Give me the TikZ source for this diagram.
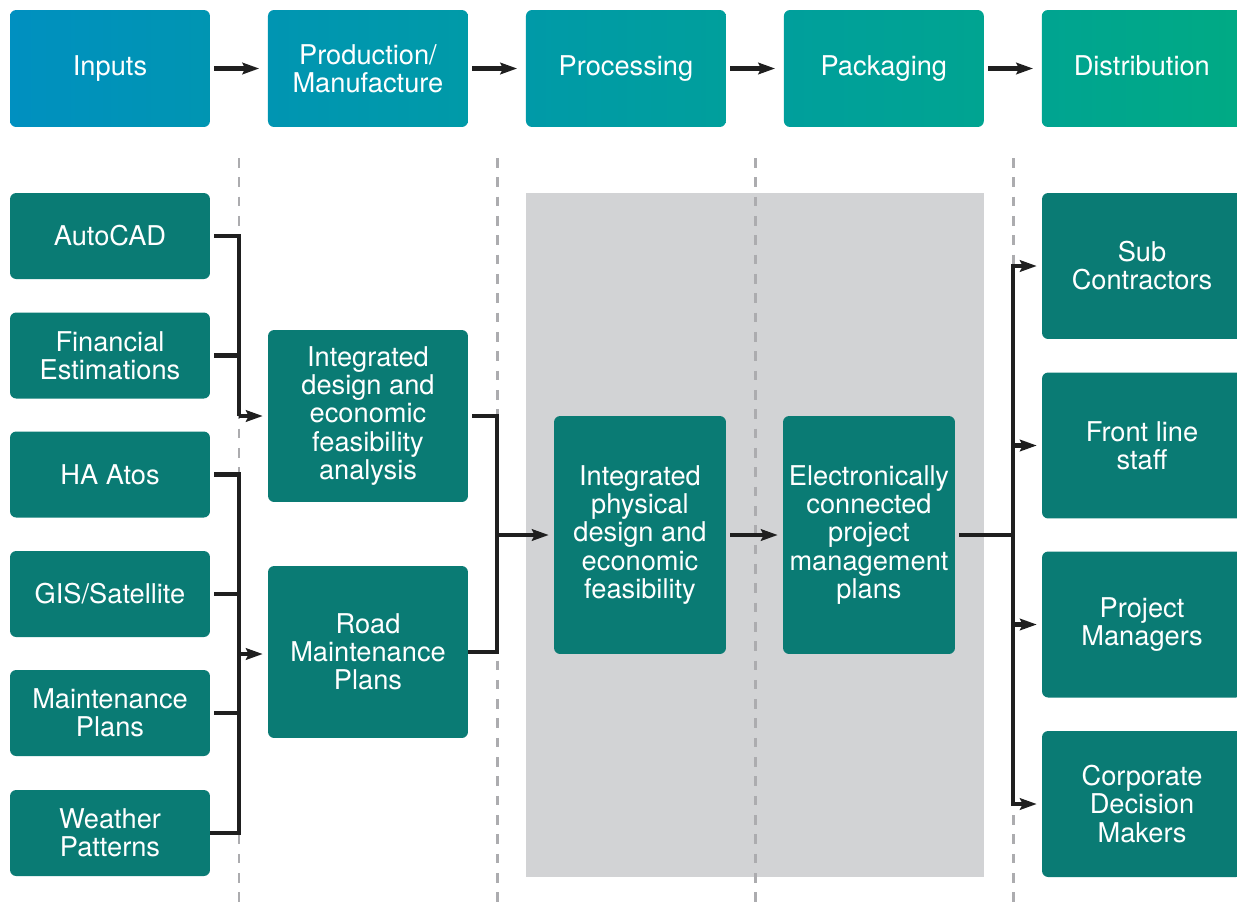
\documentclass[tikz,border=0pt]{standalone}
\usepackage{fontspec}
\setmainfont{TeX Gyre Heros}
\usetikzlibrary{arrows.meta,positioning}

\definecolor{tealbox}{RGB}{10,123,116}
\definecolor{panelgray}{RGB}{210,211,213}
\definecolor{dashgray}{RGB}{172,172,175}
\definecolor{stageA}{RGB}{0,144,192}
\definecolor{stageB}{RGB}{0,149,178}
\definecolor{stageC}{RGB}{0,154,168}
\definecolor{stageD}{RGB}{0,159,156}
\definecolor{stageE}{RGB}{0,164,145}
\definecolor{stageF}{RGB}{0,170,132}

\begin{document}
\begin{tikzpicture}[x=0.02cm,y=-0.02cm,>={Stealth[length=9.5pt,width=6.5pt,inset=1.5pt]},
    line width=2.4pt,
    every node/.style={font=\fontsize{15.5}{16}\selectfont,text=white,align=center,outer sep=0pt},
    stage/.style={rectangle,rounded corners=3.5pt,minimum width=4cm,minimum height=2.34cm},
    source/.style={rectangle,rounded corners=3.5pt,fill=tealbox,minimum width=4cm,minimum height=1.72cm},
    result/.style={rectangle,rounded corners=3.5pt,fill=tealbox,minimum width=4cm,minimum height=3.44cm},
    core/.style={rectangle,rounded corners=3.5pt,fill=tealbox,minimum width=3.44cm,minimum height=4.76cm},
    user/.style={rectangle,rounded corners=3.5pt,fill=tealbox,minimum width=4cm,minimum height=2.92cm},
    link/.style={draw=black!88},
    gap/.style={shorten <=2.5pt},
    divider/.style={draw=dashgray,line width=1.7pt,dash pattern=on 5.5pt off 5.5pt}]

    \useasboundingbox (0,0) rectangle (1237,907);

    % shaded band behind processing and packaging
    \fill[panelgray] (526,193) rectangle (984,877);
    \foreach \x in {239,497,755,1013}
        \draw[divider] (\x,158) -- (\x,907);

    % stages
    \node[stage,left color=stageA,right color=stageB] (inputs) at (110,68.5) {Inputs\vphantom{g}};
    \node[stage,left color=stageB,right color=stageC] (production) [right=1.16cm of inputs] {Production/\\Manufacture};
    \node[stage,left color=stageC,right color=stageD] (processing) [right=1.16cm of production] {Processing};
    \node[stage,left color=stageD,right color=stageE] (packaging) [right=1.16cm of processing] {Packaging};
    \node[stage,left color=stageE,right color=stageF] (distribution) [right=1.16cm of packaging] {Distribution\vphantom{g}};

    \foreach \a/\b in {inputs/production,production/processing,processing/packaging,packaging/distribution}
        \draw[link,gap,->,shorten >=5pt] (\a) -- (\b);

    % inputs
    \node[source] (autocad)   at (110,236)   {AutoCAD};
    \node[source] (financial) at (110,355.5) {Financial\\Estimations};
    \node[source] (atos)      at (110,474.5) {HA Atos};
    \node[source] (gis)       at (110,594)   {GIS/Satellite};
    \node[source] (maint)     at (110,713)   {Maintenance\\Plans};
    \node[source] (weather)   at (110,833)   {Weather\\Patterns};

    % production
    \node[result] (design) at (368,416) {Integrated\\design and\\economic\\feasibility\\analysis};
    \node[result] (road)   at (368,652) {Road\\Maintenance\\Plans};

    % processing and packaging
    \node[core] (physical)   at (640,535) {Integrated\\physical\\design and\\economic\\feasibility};
    \node[core] (electronic) at (869,535) {Electronically\\connected\\project\\management\\plans};

    % distribution
    \node[user] (sub)       at (1142,266)   {Sub\\Contractors};
    \node[user] (front)     at (1142,445.5) {Front line\\staff};
    \node[user] (project)   at (1142,624.5) {Project\\Managers};
    \node[user] (corporate) at (1142,804)   {Corporate\\Decision\\Makers};

    \coordinate (j1) at (239,416);
    \coordinate (j2) at (239,654);
    \coordinate (j3) at (497,535);
    \coordinate (j4) at (1013,535);

    \draw[link,gap] (autocad) -| (j1);
    \draw[link,gap] (financial) -- (financial -| j1);
    \draw[link,->,shorten >=3pt] (j1) -- (j1 -| design.west);

    \draw[link,gap] (atos) -| (j2) |- (weather);
    \draw[link,gap] (gis) -- (gis -| j2);
    \draw[link,gap] (maint) -- (maint -| j2);
    \draw[link,->,shorten >=3pt] (j2) -- (j2 -| road.west);

    \draw[link,gap] (design) -| (j3) |- (road);
    \draw[link,->,shorten >=3pt] (j3) -- (physical);
    \draw[link,gap,->,shorten >=3pt] (physical) -- (electronic);

    \draw[link,gap] (electronic) -- (j4);
    \draw[link,->,shorten >=3pt] (j4) |- (sub);
    \draw[link,->,shorten >=3pt] (j4) |- (corporate);
    \draw[link,->,shorten >=3pt] (front -| j4) -- (front);
    \draw[link,->,shorten >=3pt] (project -| j4) -- (project);
\end{tikzpicture}
\end{document}
